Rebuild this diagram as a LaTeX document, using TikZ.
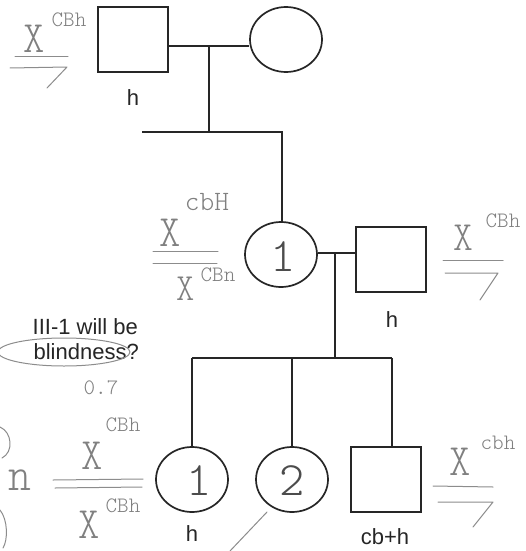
\documentclass[tikz,border=0pt]{standalone}
\usepackage{fontspec}
\setmainfont{Liberation Sans}
\usetikzlibrary{shapes.geometric}
% light monospaced face for the pencil notes
\newcommand\handfont[1]{\fontfamily{lmtt}\fontseries{l}\selectfont\fontsize{#1}{#1}\selectfont}
\newcommand\bigX[1]{\scalebox{1.45}[1.6]{#1}}
\begin{document}
\begin{tikzpicture}[x=1pt,y=-1pt,
  ped/.style={draw=black!85,line width=1.7pt},
  sq/.style={ped,rectangle,minimum width=70pt,minimum height=65pt,inner sep=0pt},
  fc/.style={ped,ellipse,minimum width=72pt,minimum height=65pt,inner sep=0pt},
  lbl/.style={font=\fontsize{22}{22}\selectfont,text=black!85,inner sep=0pt},
  pen/.style={draw=black!45,line width=1pt,line cap=round,line join=round},
  hand/.style={text=black!50,inner sep=0pt},
]
\path[fill=white,use as bounding box] (0,0) rectangle (526,551);

% generation I
\node[sq] (g1m) at (133,39.5) {};
\node[fc] (g1f) at (286,39.5) {};
\coordinate (u1) at (209,46);
\coordinate (k1) at (209,132);
\coordinate (k1l) at (142,132);
\coordinate (k1r) at (282,132);

% generation II
\node[fc] (g2f) at (281,254.5) {};
\node[sq] (g2m) at (391,259.5) {};
\coordinate (u2) at (335,253);
\coordinate (k2) at (335,358);
\coordinate (k2l) at (192,358);
\coordinate (k2r) at (392,358);

% generation III
\node[fc] (g3a) at (192,479.5) {};
\node[fc] (g3b) at (292,479.5) {};
\node[sq] (g3c) at (386,479.5) {};

% connectors
\draw[ped] (g1m.east |- u1) -- (g1f.west |- u1);
\draw[ped] (u1) -- (k1);
\draw[ped] (k1l) -- (k1r) -- (k1r |- g2f.north);
\draw[ped] (g2f.east |- u2) -- (g2m.west |- u2);
\draw[ped] (u2) -- (k2);
\draw[ped] (k2l) -- (k2r);
\draw[ped] (k2l) -- (g3a.north);
\draw[ped] (k2l -| g3b) -- (g3b.north);
\draw[ped] (k2r) -- (k2r |- g3c.north);

% printed labels
\node[lbl] (h1) at (133,98) {h};
\node[lbl] (h2) at (392,320) {h};
\node[lbl] (h3) at (192,534) {h};
\node[lbl] (h4) at (385,537) {cb+h};
\node[lbl,anchor=east] (q1) at (138,327) {III-1 will be};
\node[lbl,anchor=east] (q2) at (139,352) {blindness?};

% pencil notes: numbers in the symbols
\node[hand,text=black!70,font=\handfont{48}] (n1) at (283,257) {1};
\node[hand,text=black!70,font=\handfont{48}] (n2) at (199,481) {1};
\node[hand,text=black!70,font=\handfont{48}] (n3) at (292,481) {2};

% pencil notes: genotypes
\node[hand,font=\handfont{28}] (xa) at (34,39) {\bigX{X}};
\node[hand,font=\handfont{22}] (xas) at (69,20) {CBh};
\draw[pen] (15,57) -- (68,57);
\draw[pen] (10,68) -- (67,67) -- (47,88);

\node[hand,font=\handfont{28}] (xb) at (170,233) {\bigX{X}};
\node[hand,font=\handfont{28}] (xbs) at (207,202) {cbH};
\draw[pen] (153,251) -- (218,251);
\draw[pen] (153,263) -- (217,263);
\node[hand,font=\handfont{24}] (xc) at (186,289) {\bigX{X}};
\node[hand,font=\handfont{22}] (xcs) at (218,275) {CBn};

\node[hand,font=\handfont{26}] (xd) at (463,238) {\bigX{X}};
\node[hand,font=\handfont{22}] (xds) at (503,221) {CBh};
\draw[pen] (443,260) -- (503,260);
\draw[pen] (445,273) -- (498,273) -- (480,300);

\node[hand,font=\handfont{22}] (p1) at (101,388) {0.7};
\node[hand,font=\handfont{28}] (xe) at (92,456) {\bigX{X}};
\node[hand,font=\handfont{22}] (xes) at (123,425) {CBh};
\draw[pen] (53,480) -- (143,479);
\draw[pen] (55,488) -- (142,487);
\node[hand,font=\handfont{28}] (xf) at (89,525) {\bigX{X}};
\node[hand,font=\handfont{22}] (xfs) at (123,506) {CBh};
\node[hand,font=\handfont{30}] (nn) at (20,480) {\bigX{n}};

\node[hand,font=\handfont{28}] (xg) at (460,462) {\bigX{X}};
\node[hand,font=\handfont{22}] (xgs) at (498,443) {cbh};
\draw[pen] (433,486) -- (493,487);
\draw[pen] (438,502) -- (493,502) -- (473,527);

% pencil marks
\draw[pen] (64,352) ellipse [x radius=66, y radius=14];
\draw[pen] (267,512) -- (230,551);
\draw[pen] (0,427) .. controls (12,432) and (14,452) .. (2,458);
\draw[pen] (0,510) .. controls (8,520) and (8,540) .. (3,548);
\end{tikzpicture}
\end{document}
